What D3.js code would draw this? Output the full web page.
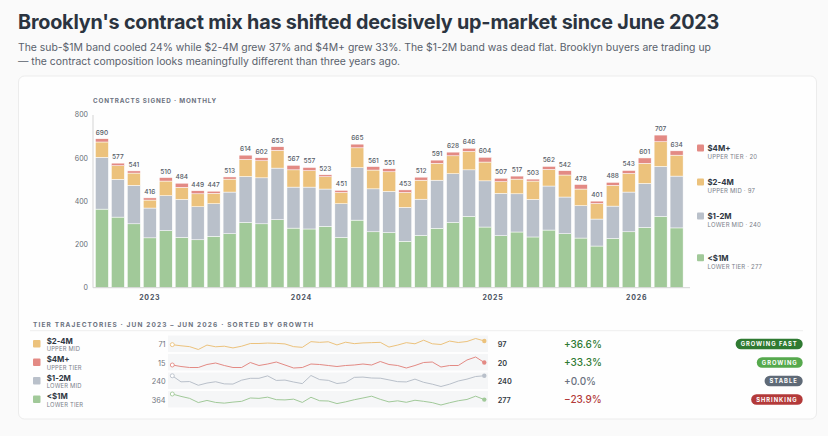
<!DOCTYPE html>
<html>
<head>
<meta charset="utf-8">
<script src="https://cdn.jsdelivr.net/npm/d3@7"></script>
<style>
  body { margin: 0; background: #fafafa; font-family: Inter, "Noto Sans", sans-serif; }
  svg { display: block; }
</style>
</head>
<body>
<div id="wrapper"></div>
<script>
// monthly contracts signed, Jun 2023 - Jun 2026, by price tier
const months = [
  "2023-06","2023-07","2023-08","2023-09","2023-10","2023-11","2023-12",
  "2024-01","2024-02","2024-03","2024-04","2024-05","2024-06","2024-07","2024-08","2024-09","2024-10","2024-11","2024-12",
  "2025-01","2025-02","2025-03","2025-04","2025-05","2025-06","2025-07","2025-08","2025-09","2025-10","2025-11","2025-12",
  "2026-01","2026-02","2026-03","2026-04","2026-05","2026-06"
]
const under1M = [364,327,296,231,264,233,222,238,250,302,296,315,276,272,284,233,313,259,255,215,242,275,302,330,281,241,258,235,267,250,230,193,228,259,279,330,277]
const oneTo2M = [240,175,178,138,162,176,153,151,193,213,213,239,190,194,173,156,243,199,191,157,168,223,226,216,214,196,177,174,204,170,150,125,150,184,204,232,240]
const twoTo4M = [71,63,57,37,68,56,60,48,60,79,79,82,80,76,57,52,92,87,91,69,88,78,83,85,87,54,68,85,77,102,77,72,96,86,93,114,97]
const over4M = [15,12,10,10,16,19,14,10,10,20,14,17,21,15,9,10,17,16,14,12,14,15,17,15,22,16,14,9,14,20,21,11,14,14,25,31,20]

const years = ["2023", "2024", "2025", "2026"]
const yTicks = [0, 200, 400, 600, 800]
const tierKeys = ["under1M", "oneTo2M", "twoTo4M", "over4M"]
const tierNames = ["<$1M", "$1-2M", "$2-4M", "$4M+"]
const tierSubs = ["LOWER TIER", "LOWER MID", "UPPER MID", "UPPER TIER"]
const statusLabels = ["SHRINKING", "STABLE", "GROWING FAST", "GROWING"]

const tierColors = ["#a1c999", "#b9c0ca", "#ecc27c", "#e38a84"]
const statusColors = {
  "GROWING FAST": "#2f7a32",
  "GROWING": "#56a94d",
  "STABLE": "#5f6a77",
  "SHRINKING": "#b33a3a"
}

function drawChart() {
  const series = [under1M, oneTo2M, twoTo4M, over4M]
  const data = months.map((m, i) => {
    const row = { month: m }
    tierKeys.forEach((k, t) => row[k] = series[t][i])
    return row
  })
  const totalAccessor = d => d3.sum(tierKeys, k => d[k])

  // 1. dimensions
  let dimensions = {
    width: 828,
    height: 436,
    chart: { left: 93, right: 685.5, top: 115, bottom: 287.7 }
  }

  // 2. canvas
  const wrapper = d3.select("#wrapper")
    .append("svg")
      .attr("width", dimensions.width)
      .attr("height", dimensions.height)
      .style("font-family", "Inter, 'Noto Sans', sans-serif")

  wrapper.append("text")
      .attr("x", 18)
      .attr("y", 29)
      .text("Brooklyn's contract mix has shifted decisively up-market since June 2023")
      .attr("fill", "#2b3440")
      .style("font-size", "19.8px")
      .style("font-weight", 700)
      .style("letter-spacing", "-0.2px")

  const subtitle = [
    "The sub-$1M band cooled 24% while $2-4M grew 37% and $4M+ grew 33%. The $1-2M band was dead flat. Brooklyn buyers are trading up",
    "\u2014 the contract composition looks meaningfully different than three years ago."
  ]
  wrapper.append("g").selectAll("text")
    .data(subtitle)
    .join("text")
      .attr("x", 18)
      .attr("y", (d, i) => 50.5 + i * 14.5)
      .text(d => d)
      .attr("fill", "#59616c")
      .style("font-size", "10.4px")

  wrapper.append("rect")
      .attr("x", 18.5)
      .attr("y", 76)
      .attr("width", 798)
      .attr("height", 343)
      .attr("rx", 6)
      .attr("fill", "#fefefe")
      .attr("stroke", "#ececec")

  const bounds = wrapper.append("g")

  // 3. scales
  const xScale = d3.scaleBand()
    .domain(months)
    .range([dimensions.chart.left, dimensions.chart.right])
    .paddingInner(0.185)
    .paddingOuter(0.15)

  const yScale = d3.scaleLinear()
    .domain([0, 800])
    .range([dimensions.chart.bottom, dimensions.chart.top])

  const stack = d3.stack().keys(tierKeys)(data)

  // 4. bars
  bounds.append("g").selectAll("g")
    .data(stack)
    .join("g")
      .attr("fill", (d, i) => tierColors[i])
    .selectAll("rect")
    .data(d => d)
    .join("rect")
      .attr("x", d => xScale(d.data.month))
      .attr("y", d => yScale(d[1]))
      .attr("width", xScale.bandwidth())
      .attr("height", d => yScale(d[0]) - yScale(d[1]))
      .attr("stroke", "#ffffff")
      .attr("stroke-width", 0.5)

  bounds.append("g").selectAll("text")
    .data(data)
    .join("text")
      .attr("x", d => xScale(d.month) + xScale.bandwidth() / 2)
      .attr("y", d => yScale(totalAccessor(d)) - 4)
      .text(totalAccessor)
      .style("text-anchor", "middle")
      .attr("fill", "#555c66")
      .style("font-size", "6.5px")
      .style("font-weight", 500)

  // 5. axes
  const yAxis = bounds.append("g")
  yAxis.append("line")
      .attr("x1", dimensions.chart.left)
      .attr("x2", dimensions.chart.left)
      .attr("y1", yScale(800))
      .attr("y2", yScale(0))
      .attr("stroke", "#d4d4d4")
  yAxis.selectAll("text")
    .data(yTicks)
    .join("text")
      .attr("x", dimensions.chart.left - 5)
      .attr("y", d => yScale(d))
      .attr("dy", "0.35em")
      .text(d => d)
      .style("text-anchor", "end")
      .attr("fill", "#666c75")
      .style("font-size", "7px")

  bounds.append("line")
      .attr("x1", dimensions.chart.left)
      .attr("x2", dimensions.chart.right + 4.5)
      .attr("y1", yScale(0))
      .attr("y2", yScale(0))
      .attr("stroke", "#d4d4d4")

  bounds.append("g").selectAll("text")
    .data(years)
    .join("text")
      .attr("x", y => d3.mean(months.filter(m => m.startsWith(y)),
        m => xScale(m) + xScale.bandwidth() / 2))
      .attr("y", yScale(0) + 9.5)
      .attr("dy", "0.35em")
      .text(y => y)
      .style("text-anchor", "middle")
      .attr("fill", "#4a525e")
      .style("font-size", "7px")
      .style("font-weight", 700)
      .style("letter-spacing", "0.8px")

  bounds.append("text")
      .attr("x", dimensions.chart.left)
      .attr("y", 101)
      .attr("dy", "0.35em")
      .text("CONTRACTS SIGNED \u00b7 MONTHLY")
      .attr("fill", "#6b7280")
      .style("font-size", "6.3px")
      .style("font-weight", 700)
      .style("letter-spacing", "0.83px")

  // 6. right legend, anchored at the last bar's segments and pushed apart
  const lastIndex = months.length - 1
  const lastStack = stack.map(s => s[lastIndex])
  let legendY = lastStack.map(s => yScale((s[0] + s[1]) / 2))
  const order = d3.range(tierKeys.length).reverse()
  order.forEach((t, j) => {
    if (j === 0) legendY[t] -= 5
    else legendY[t] = Math.max(legendY[t], legendY[order[j - 1]] + 34)
  })
  const legend = bounds.append("g").selectAll("g")
    .data(d3.range(tierKeys.length))
    .join("g")
      .attr("transform", t => `translate(697, ${legendY[t]})`)
  legend.append("rect")
      .attr("x", 0)
      .attr("y", -3.5)
      .attr("width", 7)
      .attr("height", 7)
      .attr("rx", 1)
      .attr("fill", t => tierColors[t])
  legend.append("text")
      .attr("x", 10.5)
      .attr("y", 0)
      .attr("dy", "0.35em")
      .text(t => tierNames[t])
      .attr("fill", "#2f3742")
      .style("font-size", "7.8px")
      .style("font-weight", 700)
  legend.append("text")
      .attr("x", 10.5)
      .attr("y", 9)
      .attr("dy", "0.35em")
      .text(t => `${tierSubs[t]} \u00b7 ${series[t][lastIndex]}`)
      .attr("fill", "#7a808a")
      .style("font-size", "6px")
      .style("letter-spacing", "0.2px")

  // 7. tier trajectories
  wrapper.append("text")
      .attr("x", 33)
      .attr("y", 324.5)
      .attr("dy", "0.35em")
      .text("TIER TRAJECTORIES \u00b7 JUN 2023 \u2013 JUN 2026 \u00b7 SORTED BY GROWTH")
      .attr("fill", "#6b7280")
      .style("font-size", "6.5px")
      .style("font-weight", 700)
      .style("letter-spacing", "1.15px")
  wrapper.append("line")
      .attr("x1", 30)
      .attr("x2", 803)
      .attr("y1", 330.7)
      .attr("y2", 330.7)
      .attr("stroke", "#eeeeee")

  const tiers = d3.range(tierKeys.length).map(t => ({
    t,
    values: series[t],
    first: series[t][0],
    last: series[t][lastIndex],
    growth: (series[t][lastIndex] - series[t][0]) / series[t][0]
  }))
  const sorted = d3.sort(tiers, (a, b) => b.growth - a.growth)

  const sparkX = d3.scaleLinear()
    .domain([0, lastIndex])
    .range([172.3, 484.3])

  const rows = wrapper.append("g").selectAll("g")
    .data(sorted)
    .join("g")
      .attr("transform", (d, i) => `translate(0, ${344 + i * 18.5})`)

  rows.append("rect")
      .attr("x", 33)
      .attr("y", -4)
      .attr("width", 7.5)
      .attr("height", 7.5)
      .attr("rx", 1)
      .attr("fill", d => tierColors[d.t])
  rows.append("text")
      .attr("x", 46.7)
      .attr("y", -3)
      .attr("dy", "0.35em")
      .text(d => tierNames[d.t])
      .attr("fill", "#2f3742")
      .style("font-size", "7.8px")
      .style("font-weight", 700)
  rows.append("text")
      .attr("x", 46.7)
      .attr("y", 5.3)
      .attr("dy", "0.35em")
      .text(d => tierSubs[d.t])
      .attr("fill", "#7a808a")
      .style("font-size", "5.8px")
      .style("letter-spacing", "0.2px")
  rows.append("text")
      .attr("x", 165.5)
      .attr("y", 0.5)
      .attr("dy", "0.35em")
      .text(d => d.first)
      .style("text-anchor", "end")
      .attr("fill", "#6e747d")
      .style("font-size", "7.3px")

  rows.append("rect")
      .attr("x", 168)
      .attr("y", -8.5)
      .attr("width", 320)
      .attr("height", 16.5)
      .attr("fill", "#f5f6f7")

  rows.each(function(d) {
    const sparkY = d3.scaleLinear()
      .domain(d3.extent(d.values))
      .range([5.5, -5.5])
    const g = d3.select(this)
    g.append("path")
        .datum(d.values)
        .attr("d", d3.line()
          .x((v, i) => sparkX(i))
          .y(v => sparkY(v)))
        .attr("fill", "none")
        .attr("stroke", tierColors[d.t])
        .attr("stroke-width", 1)
    g.append("circle")
        .attr("cx", sparkX(0))
        .attr("cy", sparkY(d.first))
        .attr("r", 2)
        .attr("fill", "#ffffff")
        .attr("stroke", tierColors[d.t])
        .attr("stroke-width", 0.9)
    g.append("circle")
        .attr("cx", sparkX(lastIndex))
        .attr("cy", sparkY(d.last))
        .attr("r", 2.2)
        .attr("fill", tierColors[d.t])
  })

  rows.append("text")
      .attr("x", 497.7)
      .attr("y", 0.5)
      .attr("dy", "0.35em")
      .text(d => d.last)
      .attr("fill", "#333a44")
      .style("font-size", "7.3px")
      .style("font-weight", 600)

  const pctFormat = d3.format("+.1%")
  rows.append("text")
      .attr("x", 564)
      .attr("y", 0)
      .attr("dy", "0.35em")
      .text(d => pctFormat(d.growth))
      .attr("fill", d => d.growth > 0.001 ? "#2f7a32"
        : d.growth < -0.001 ? "#b33a3a" : "#6b7280")
      .style("font-size", "10px")
      .style("font-weight", 500)

  const badge = rows.append("g")
  badge.append("text")
      .attr("x", 797.7)
      .attr("y", 0)
      .attr("dy", "0.35em")
      .text(d => statusLabels[d.t])
      .style("text-anchor", "end")
      .attr("fill", "#ffffff")
      .style("font-size", "5.8px")
      .style("font-weight", 700)
      .style("letter-spacing", "1px")
  badge.each(function() {
    const g = d3.select(this)
    const w = g.select("text").node().getComputedTextLength()
    g.insert("rect", "text")
        .attr("x", 802.7 - w - 10)
        .attr("y", -5.3)
        .attr("width", w + 10)
        .attr("height", 10.6)
        .attr("rx", 5.3)
        .attr("fill", d => statusColors[statusLabels[d.t]])
  })
}

drawChart()
</script>
</body>
</html>
